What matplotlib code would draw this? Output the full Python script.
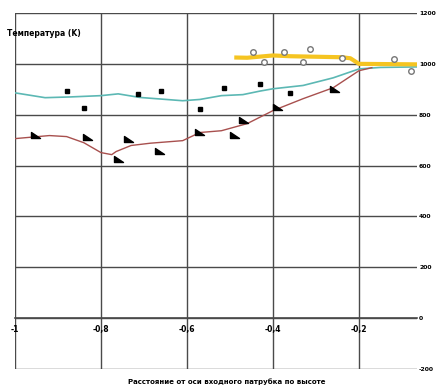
import matplotlib
matplotlib.use("Agg")
import matplotlib.pyplot as plt
from matplotlib.path import Path

# ---- data ----
teal_x = [-1.0, -0.93, -0.87, -0.80, -0.76, -0.71, -0.61, -0.57, -0.52, -0.47, -0.43, -0.40, -0.33, -0.26, -0.20, -0.15, -0.065]
teal_y = [886, 867, 870, 875, 882, 868, 855, 860, 875, 879, 893, 902, 915, 945, 980, 986, 988]

brown_x = [-1.0, -0.92, -0.88, -0.84, -0.80, -0.775, -0.765, -0.73, -0.685, -0.61, -0.57, -0.52, -0.46, -0.40, -0.33, -0.26, -0.20, -0.17]
brown_y = [706, 718, 714, 690, 651, 643, 655, 679, 688, 698, 730, 737, 765, 816, 863, 906, 973, 985]

yellow_x = [-0.49, -0.46, -0.40, -0.36, -0.24, -0.22, -0.20, -0.065]
yellow_y = [1025, 1024, 1033, 1030, 1026, 1022, 1000, 998]

sq_x = [-0.88, -0.84, -0.715, -0.66, -0.57, -0.515, -0.43, -0.36]
sq_y = [895, 828, 882, 895, 823, 906, 922, 887]

tri_x = [-0.953, -0.832, -0.76, -0.738, -0.665, -0.572, -0.49, -0.47, -0.39, -0.258]
tri_y = [718, 710, 620, 702, 655, 730, 718, 776, 828, 898]

circ_x = [-0.446, -0.42, -0.375, -0.329, -0.315, -0.24, -0.118, -0.08]
circ_y = [1047, 1008, 1047, 1008, 1059, 1024, 1020, 973]

x_ticks = [-1.0, -0.8, -0.6, -0.4, -0.2]
x_tick_labels = ["-1", "-0,8", "-0,6", "-0,4", "-0,2"]
y_ticks = [-200, 0, 200, 400, 600, 800, 1000, 1200]
y_tick_labels = ["-200", "0", "200", "400", "600", "800", "1000", "1200"]

# ---- figure ----
W, H = 436, 387
fig = plt.figure(figsize=(W / 100, H / 100), dpi=100)
ax = fig.add_axes([15 / W, 1 - 369 / H, (417 - 15) / W, (369 - 13) / H])

ax.set_xlim(-1.0, -0.065)
ax.set_ylim(-200, 1200)

grid_c = "#4a4a4a"
for xv in x_ticks:
    ax.axvline(xv, color=grid_c, lw=1.0, zorder=1)
for yv in y_ticks:
    ax.axhline(yv, color=grid_c, lw=1.0, zorder=1)

for s in ["top", "right", "left"]:
    ax.spines[s].set_visible(False)
ax.spines["bottom"].set_position(("data", 0))
ax.spines["bottom"].set_color(grid_c)
ax.spines["bottom"].set_linewidth(1.2)

ax.set_xticks(x_ticks)
ax.set_xticklabels(x_tick_labels, fontsize=5.5, fontweight="bold")
ax.tick_params(axis="x", length=0, pad=5)

ax.yaxis.tick_right()
ax.set_yticks(y_ticks)
ax.set_yticklabels(y_tick_labels, fontsize=4.4, fontweight="bold")
ax.tick_params(axis="y", length=0, pad=1.5)

# lines
ax.plot(teal_x, teal_y, color="#5cb8b4", lw=1.2, zorder=3)
ax.plot(brown_x, brown_y, color="#a8504e", lw=1.0, zorder=3)
ax.plot(yellow_x, yellow_y, color="#f5c421", lw=3.0, zorder=4, solid_capstyle="butt")

# markers
tri_marker = Path([(-1, 1), (-1, -0.6), (1.2, -0.6), (-1, 1)],
                  [Path.MOVETO, Path.LINETO, Path.LINETO, Path.CLOSEPOLY])
ax.plot(sq_x, sq_y, linestyle="none", marker="s", markersize=3, color="black", zorder=5)
ax.plot(tri_x, tri_y, linestyle="none", marker=tri_marker, markersize=7, color="black", zorder=5)
ax.plot(circ_x, circ_y, linestyle="none", marker="o", markersize=4, markerfacecolor="white",
        markeredgecolor="#777777", markeredgewidth=1.0, zorder=5)

fig.text(7 / W, 1 - 33 / H, "Температура (K)", fontsize=5.5, fontweight="bold",
         ha="left", va="center")
fig.text(227 / W, 1 - 382 / H, "Расстояние от оси входного патрубка по высоте",
         fontsize=5, fontweight="bold", ha="center", va="center")

fig.savefig("out.png", dpi=100)
